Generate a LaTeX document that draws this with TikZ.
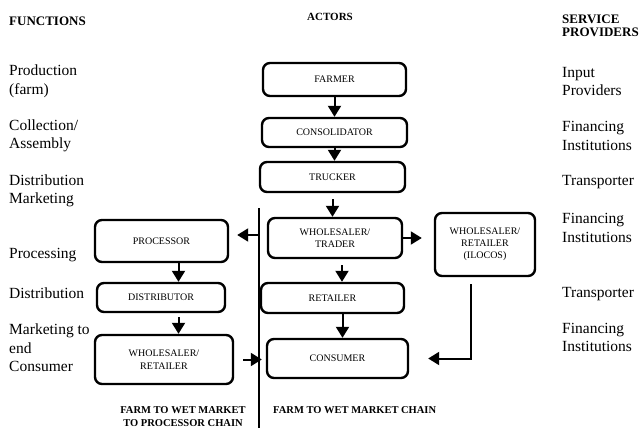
\documentclass[tikz,border=0pt]{standalone}
\usepackage{fontspec}
\setmainfont{Liberation Serif}
\usepackage{tikz}
\usetikzlibrary{arrows.meta, calc}

\begin{document}
\begin{tikzpicture}[x=1pt, y=-1pt, >={Triangle[length=11pt,width=13pt]},
    actor/.style={draw, line width=2.4pt, rounded corners=7pt, align=center, inner sep=0pt,
      font=\fontsize{10}{12.5}\selectfont},
    func/.style={anchor=west, align=left, inner sep=0pt, font=\fontsize{15.5}{18.5}\selectfont},
    head/.style={anchor=west, align=left, inner sep=0pt, font=\bfseries\fontsize{13}{12.5}\selectfont},
    chain/.style={align=center, inner sep=0pt, font=\bfseries\fontsize{10.5}{12.5}\selectfont},
    flow/.style={->, line width=2pt}]
      \useasboundingbox (0,0) rectangle (641,428);

      % Column heads
      \node [head] (head-func) at (9,21) {FUNCTIONS};
      \node [head, anchor=center, font=\bfseries\fontsize{11}{12}\selectfont] (head-actor) at (330,17) {ACTORS};
      \node [head] (head-serv) at (562,26) {SERVICE\\PROVIDERS};

      % Functions and service providers
      \foreach \t/\y [count=\i] in {{Production\\(farm)}/81.5, {Collection/\\Assembly}/136,
          {Distribution\\Marketing}/191, {Processing}/255, {Distribution}/293,
          {Marketing to\\end\\Consumer}/348}
        \node [func] (func-\i) at (9,\y) {\t};

      \foreach \t/\y [count=\i] in {{Input\\Providers}/81.5, {Financing\\Institutions}/136,
          {Transporter}/182, {Financing\\Institutions}/228, {Transporter}/294,
          {Financing\\Institutions}/337.5}
        \node [func] (serv-\i) at (562,\y) {\t};

      % Actors
      \node [actor, minimum width=143pt, minimum height=33pt] (farmer) at (334.5,79.5) {FARMER};
      \node [actor, minimum width=145pt, minimum height=29pt] (consolidator) at (334.5,132.5) {CONSOLIDATOR};
      \node [actor, minimum width=145pt, minimum height=30pt] (trucker) at (332.5,177) {TRUCKER};
      \node [actor, minimum width=134pt, minimum height=40pt] (trader) at (335,238) {WHOLESALER/\\TRADER};
      \node [actor, minimum width=100pt, minimum height=63pt, font=\fontsize{10}{11.8}\selectfont]
        (ilocos) at (485,244.5) {WHOLESALER/\\RETAILER\\(ILOCOS)};
      \node [actor, minimum width=143pt, minimum height=30pt] (retailer) at (332.5,298) {RETAILER};
      \node [actor, minimum width=141pt, minimum height=39pt] (consumer) at (337.5,358.5) {CONSUMER};
      \node [actor, minimum width=133pt, minimum height=42pt] (processor) at (161.5,241) {PROCESSOR};
      \node [actor, minimum width=128pt, minimum height=29pt] (distributor) at (161,297.5) {DISTRIBUTOR};
      \node [actor, minimum width=138pt, minimum height=49pt] (wholesaler) at (164,359.5) {WHOLESALER/\\RETAILER};

      % Chain divider
      \coordinate (div-top) at (259,208);
      \coordinate (div-bot) at (259,428);
      \draw [line width=1.5pt] (div-top) -- (div-bot);

      \node [chain] (chain-left) at (183,416.5) {FARM TO WET MARKET\\TO PROCESSOR CHAIN};
      \node [chain, anchor=west] (chain-right) at (273,410.5) {FARM TO WET MARKET CHAIN};

      % Flows
      \draw [flow] (farmer) -- (consolidator);
      \draw [flow] (consolidator.south) -- (consolidator.south |- trucker.north);
      \draw [flow, shorten <=6pt] (trucker.south) -- (trucker.south |- trader.north);
      \draw [flow, shorten <=6pt] ([xshift=7pt]trader.south) -- ([xshift=7pt]trader.south |- retailer.north);
      \draw [flow] ([xshift=10pt]retailer.south) -- ([xshift=10pt]retailer.south |- consumer.north);
      \draw [flow] ([xshift=17pt]processor.south) -- ([xshift=17pt]processor.south |- distributor.north);
      \draw [flow, shorten <=4pt] ([xshift=17pt]processor.south |- distributor.south)
        -- ([xshift=17pt]processor.south |- wholesaler.north);

      \draw [flow, shorten >=8pt] ([yshift=6pt]div-top |- processor.east) -- ([yshift=6pt]processor.east);
      \draw [flow, shorten >=12pt] (trader.east) -- (trader.east -| ilocos.west);
      \draw [flow, shorten <=9pt, shorten >=4pt] (wholesaler.east) -- (wholesaler.east -| consumer.west);
      \draw [flow, shorten <=7pt, shorten >=19pt] ([xshift=-14pt]ilocos.south) |- (consumer.east);
\end{tikzpicture}
\end{document}
